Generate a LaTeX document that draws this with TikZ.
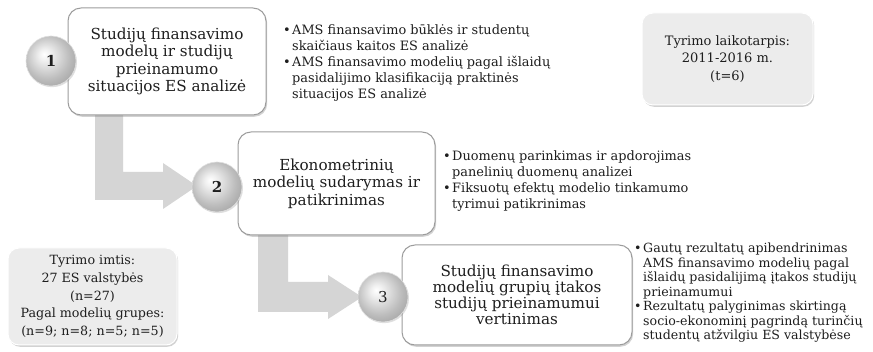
\documentclass[tikz,border=0pt]{standalone}
\usepackage{fontspec}
\setmainfont{DejaVu Serif}
\usetikzlibrary{shadows}

\definecolor{txt}{HTML}{1E1E1E}
\definecolor{arrowgray}{HTML}{D5D5D5}
\definecolor{boxline}{HTML}{9C9C9C}
\definecolor{panelfill}{HTML}{ECECEC}

% soft grey sphere for the step numbers
\pgfdeclareradialshading{sphere}{\pgfpoint{-7bp}{7bp}}{%
  color(0bp)=(white); color(6bp)=(white!94!black);
  color(22bp)=(white!74!black); color(30bp)=(white!66!black);
  color(50bp)=(white!66!black)}

\newcommand\bulletmark{\makebox[9pt][l]{•}}
\newcommand\bulletindent{\hspace*{9pt}}

\begin{document}
\begin{tikzpicture}[x=1pt,y=-1pt,
  every node/.style={text=txt},
  stagebox/.style={draw=boxline, line width=1pt, fill=white,
    rounded corners=13pt, inner sep=0pt, align=center,
    font=\fontsize{15.2}{17.6}\selectfont,
    drop shadow={opacity=0.35, shadow xshift=1.2pt, shadow yshift=-1.8pt}},
  infobox/.style={draw=white, line width=1pt, fill=panelfill,
    rounded corners=11pt, inner sep=0pt, align=center,
    font=\fontsize{13}{17.6}\selectfont,
    drop shadow={opacity=0.35, shadow xshift=1.2pt, shadow yshift=-1.8pt}},
  ball/.style={circle, minimum size=50pt, inner sep=0pt, shading=sphere,
    draw=white!88!black, line width=0.6pt,
    font=\fontsize{15}{18}\selectfont,
    drop shadow={opacity=0.25, shadow xshift=1pt, shadow yshift=-1.2pt}},
  notes/.style={anchor=north west, align=left, inner sep=0pt,
    font=\fontsize{12.9}{16}\selectfont},
  flow/.style={fill=arrowgray, draw=none}]

\useasboundingbox (0,0) rectangle (873,352);
\fill[white] (0,0) rectangle (873,352);

% bent block arrows between the stages
\fill[flow] (95,110) -- (123,110) -- (123,172) -- (163,172) -- (163,163)
  -- (197,186) -- (163,209) -- (163,200) -- (95,200) -- cycle;
\fill[flow] (258,230) -- (288,230) -- (288,282) -- (328,282) -- (328,275)
  -- (362,297) -- (328,319) -- (328,312) -- (258,312) -- cycle;

% stage boxes
\node[stagebox, minimum width=198pt, minimum height=107pt] (b1) at (167,61.5)
  {Studijų finansavimo\\ modelų ir studijų\\ prieinamumo\\ situacijos ES analizė};
\node[stagebox, minimum width=197pt, minimum height=103pt] (b2) at (336.5,183.5)
  {Ekonometrinių\\ modelių sudarymas ir\\ patikrinimas};
\node[stagebox, minimum width=230pt, minimum height=100pt,
  font=\fontsize{15.2}{15.8}\selectfont] (b3) at (517,295)
  {Studijų finansavimo\\ modelių grupių įtakos\\ studijų prieinamumui\\ vertinimas};

% step numbers
\node[ball] (c1) at (51,61) {\textbf{1}};
\node[ball] (c2) at (217,187) {\textbf{2}};
\node[ball] (c3) at (383,297) {3};

% side panels
\node[infobox, minimum width=171pt, minimum height=92pt] (period) at (727.5,59)
  {Tyrimo laikotarpis:\\ 2011-2016 m.\\ (t=6)};
\node[infobox, minimum width=169pt, minimum height=97pt,
  font=\fontsize{12.7}{17.8}\selectfont] (sample) at (92.5,296.5)
  {Tyrimo imtis:\\ 27 ES valstybės\\ (n=27)\\ Pagal modelių grupes:\\ (n=9; n=8; n=5; n=5)};

% stage notes
\node[notes] (n1) at (283,24) {%
  \bulletmark AMS finansavimo būklės ir studentų\\
  \bulletindent skaičiaus kaitos ES analizė\\
  \bulletmark AMS finansavimo modelių pagal išlaidų\\
  \bulletindent pasidalijimo klasifikaciją praktinės\\
  \bulletindent situacijos ES analizė};
\node[notes] (n2) at (443,151) {%
  \bulletmark Duomenų parinkimas ir apdorojimas\\
  \bulletindent panelinių duomenų analizei\\
  \bulletmark Fiksuotų efektų modelio tinkamumo\\
  \bulletindent tyrimui patikrinimas};
\node[notes, font=\fontsize{12.6}{14.5}\selectfont] (n3) at (634,243) {%
  \bulletmark Gautų rezultatų apibendrinimas\\
  \bulletindent AMS finansavimo modelių pagal\\
  \bulletindent išlaidų pasidalijimą įtakos studijų\\
  \bulletindent prieinamumui\\
  \bulletmark Rezultatų palyginimas skirtingą\\
  \bulletindent socio-ekonominį pagrindą turinčių\\
  \bulletindent studentų atžvilgiu ES valstybėse};

\end{tikzpicture}
\end{document}
